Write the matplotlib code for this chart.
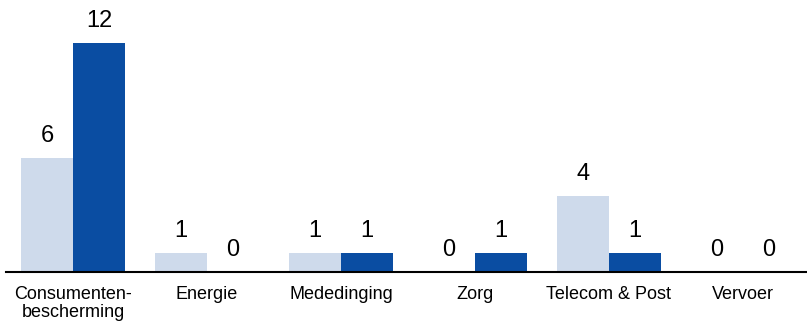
import matplotlib
matplotlib.use("Agg")
import matplotlib.pyplot as plt
import numpy as np

plt.rcParams['font.family'] = ['Liberation Sans', 'DejaVu Sans']

categories = ["Consumenten-\nbescherming", "Energie", "Mededinging", "Zorg",
              "Telecom & Post", "Vervoer"]
series_a = [6, 1, 1, 0, 4, 0]
series_b = [12, 0, 1, 1, 1, 0]

color_a = "#CEDAEB"
color_b = "#0A4DA2"

fig = plt.figure(figsize=(8.07, 3.25), dpi=100)
# axes spans the full group slots; baseline sits 53 px above the bottom
ax = fig.add_axes([6 / 807, 53 / 325, 804 / 807, 267 / 325])

x = np.arange(len(categories))
w = 0.388
bars_a = ax.bar(x - w / 2, series_a, width=w, color=color_a, linewidth=0)
bars_b = ax.bar(x + w / 2, series_b, width=w, color=color_b, linewidth=0)

for bars, vals in ((bars_a, series_a), (bars_b, series_b)):
    for b, v in zip(bars, vals):
        ax.annotate(f"{v}", (b.get_x() + b.get_width() / 2, v),
                    xytext=(0, 11.5), textcoords="offset points",
                    ha="center", va="baseline", fontsize=17, color="black")

ax.set_xlim(-0.5, len(categories) - 0.5)
ax.set_ylim(0, 14)
ax.set_yticks([])
ax.set_xticks(x)
ax.set_xticklabels(categories, fontsize=13, linespacing=1.1)
ax.tick_params(axis="x", length=0, pad=10)

for side in ("top", "right", "left"):
    ax.spines[side].set_visible(False)
ax.spines["bottom"].set_linewidth(1.5)
ax.spines["bottom"].set_color("black")

fig.savefig("out.png", dpi=100)
